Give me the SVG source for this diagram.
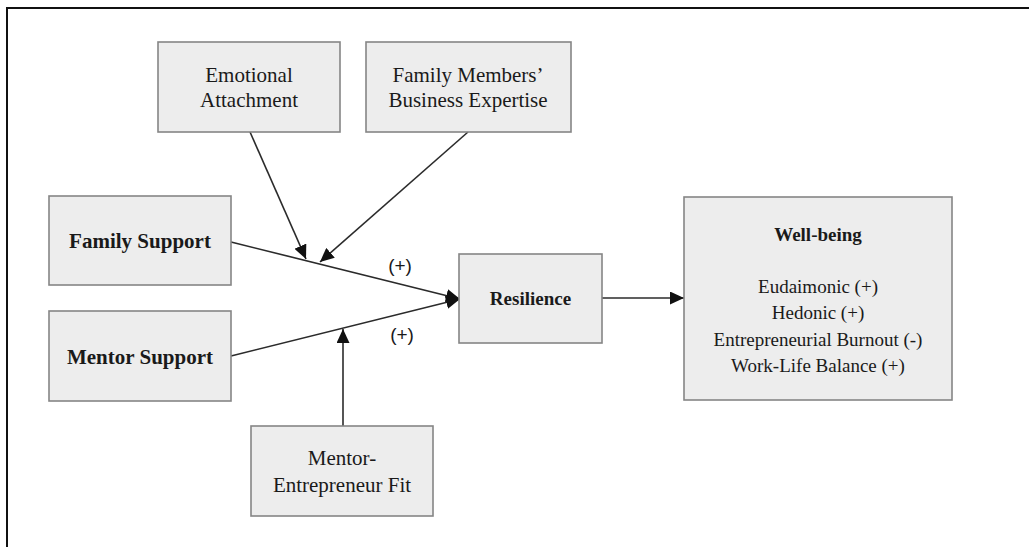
<svg xmlns="http://www.w3.org/2000/svg" width="1029" height="547" viewBox="0 0 1029 547">
  <style>
    .box { fill: #ededed; stroke: #858585; stroke-width: 1.6; }
    .t { font-family: "Liberation Serif", "Times New Roman", serif; font-size: 21px; fill: #1a1a1a; text-anchor: middle; }
    .s { font-size: 19px; }
    .b { font-weight: bold; }
    .lbl { font-family: "Liberation Sans", Arial, sans-serif; font-size: 19px; fill: #1a1a1a; text-anchor: middle; }
    .edge { stroke: #2b2b2b; stroke-width: 1.6; fill: none; marker-end: url(#head); }
  </style>
  <defs>
    <marker id="head" markerUnits="userSpaceOnUse" markerWidth="14" markerHeight="13" refX="14" refY="6.5" orient="auto">
      <path d="M0,0 L14,6.5 L0,13 Z" fill="#111"/>
    </marker>
  </defs>

  <rect width="1029" height="547" fill="#ffffff"/>
  <!-- frame -->
  <rect x="7" y="8" width="1040" height="560" fill="none" stroke="#111" stroke-width="2"/>

  <g id="connectors">
    <line class="edge" x1="231" y1="242" x2="460" y2="299"/>
    <line class="edge" x1="231" y1="356" x2="460" y2="299"/>
    <line class="edge" x1="250" y1="132" x2="306" y2="259"/>
    <line class="edge" x1="468" y1="132" x2="320" y2="262"/>
    <line class="edge" x1="343" y1="426" x2="343" y2="329"/>
    <line class="edge" x1="602" y1="298" x2="684" y2="298"/>
    <text class="lbl" x="400" y="272">(+)</text>
    <text class="lbl" x="402" y="341">(+)</text>
  </g>

  <g id="emotional-attachment">
    <rect class="box" x="158" y="42" width="182" height="90"/>
    <text class="t" x="249" y="82">Emotional</text>
    <text class="t" x="249" y="107">Attachment</text>
  </g>

  <g id="family-expertise">
    <rect class="box" x="366" y="42" width="205" height="90"/>
    <text class="t" x="468" y="82">Family Members’</text>
    <text class="t" x="468" y="107">Business Expertise</text>
  </g>

  <g id="family-support">
    <rect class="box" x="49" y="196" width="182" height="89"/>
    <text class="t b" x="140" y="248">Family Support</text>
  </g>

  <g id="mentor-support">
    <rect class="box" x="49" y="311" width="182" height="90"/>
    <text class="t b" x="140" y="364">Mentor Support</text>
  </g>

  <g id="mentor-fit">
    <rect class="box" x="251" y="426" width="182" height="90"/>
    <text class="t" x="342" y="465">Mentor-</text>
    <text class="t" x="342" y="492">Entrepreneur Fit</text>
  </g>

  <g id="resilience">
    <rect class="box" x="459" y="254" width="143" height="89"/>
    <text class="t s b" x="530.5" y="305">Resilience</text>
  </g>

  <g id="well-being">
    <rect class="box" x="684" y="197" width="268" height="203"/>
    <text class="t s b" x="818" y="241">Well-being</text>
    <text class="t s" x="818" y="293">Eudaimonic (+)</text>
    <text class="t s" x="818" y="319">Hedonic (+)</text>
    <text class="t s" x="818" y="346">Entrepreneurial Burnout (-)</text>
    <text class="t s" x="818" y="372">Work-Life Balance (+)</text>
  </g>
</svg>
